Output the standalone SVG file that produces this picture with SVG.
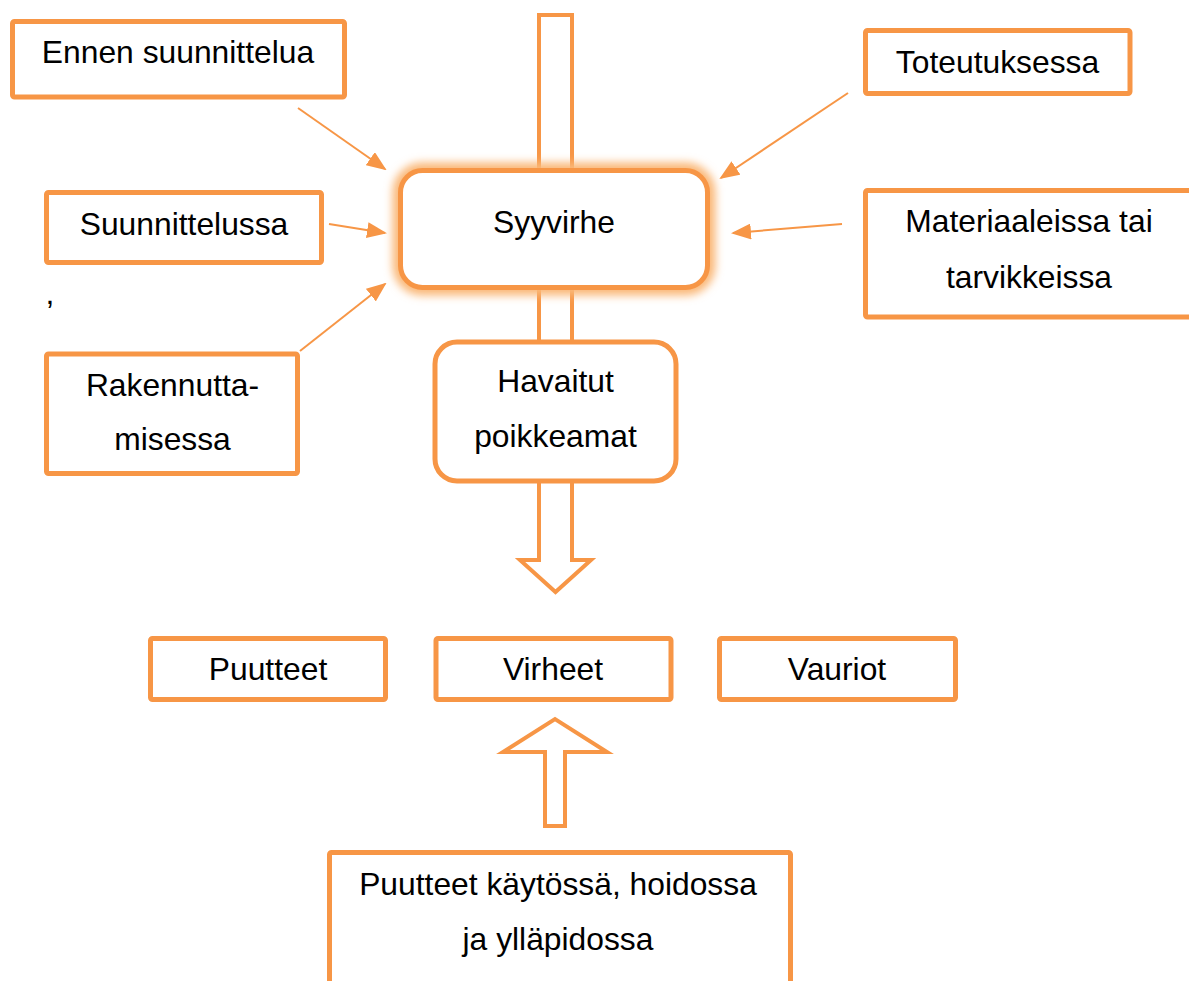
<svg xmlns="http://www.w3.org/2000/svg" width="1189" height="981" viewBox="0 0 1189 981">
<style>
.box{fill:#fff;stroke:#F79646;stroke-width:5}
.rbox{fill:#fff;stroke:#F79646;stroke-width:5}
.bar{fill:#fff;stroke:#F79646;stroke-width:4}
.t{font-family:"Liberation Sans",Arial,sans-serif;font-size:31.8px;fill:#000;text-anchor:middle}
.con{stroke:#F79646;stroke-width:2;fill:none}
</style>
<defs>
<marker id="ah" markerWidth="10" markerHeight="8" refX="9" refY="4" orient="auto" markerUnits="strokeWidth">
<path d="M0,0 L10,4 L0,8 z" fill="#F79646"/>
</marker>
<filter id="glow" x="-20%" y="-30%" width="140%" height="160%">
<feGaussianBlur stdDeviation="4"/>
</filter>
</defs>
<rect width="1189" height="981" fill="#fff"/>
<g id="arrows-block">
<rect class="bar" x="539" y="15" width="33" height="330"/>
<polygon class="bar" points="539,480 539,560 520,560 555.5,592 591,560 572,560 572,480"/>
<polygon class="bar" points="545,826 545,752 503,752 555,719 607,752 565,752 565,826"/>
</g>
<g id="connectors">
<line class="con" x1="298" y1="108" x2="385" y2="169" marker-end="url(#ah)"/>
<line class="con" x1="329" y1="224" x2="385" y2="233" marker-end="url(#ah)"/>
<line class="con" x1="300" y1="351" x2="385" y2="284" marker-end="url(#ah)"/>
<line class="con" x1="848" y1="93" x2="721" y2="178" marker-end="url(#ah)"/>
<line class="con" x1="842" y1="224" x2="733" y2="233" marker-end="url(#ah)"/>
</g>
<g id="n-ennen">
<rect class="box" x="12.5" y="21.5" width="332" height="75.5" rx="2"/>
<text class="t" x="178" y="63">Ennen suunnittelua</text>
</g>
<g id="n-suunnittelussa">
<rect class="box" x="46.5" y="192.5" width="275" height="70" rx="2"/>
<text class="t" x="184" y="235">Suunnittelussa</text>
</g>
<text class="t" x="50" y="304">,</text>
<g id="n-rakennuttamisessa">
<rect class="box" x="46.5" y="354" width="251" height="119.5" rx="2"/>
<text class="t" x="172.5" y="396">Rakennutta-</text>
<text class="t" x="172.5" y="450">misessa</text>
</g>
<g id="n-toteutuksessa">
<rect class="box" x="865.5" y="30.5" width="264.5" height="63" rx="2"/>
<text class="t" x="997.5" y="73">Toteutuksessa</text>
</g>
<g id="n-materiaaleissa">
<rect class="box" x="865.5" y="190.5" width="340" height="126.5" rx="2"/>
<text class="t" x="1029" y="232">Materiaaleissa tai</text>
<text class="t" x="1029" y="288">tarvikkeissa</text>
</g>
<g id="n-syyvirhe">
<rect x="400.5" y="170.5" width="307" height="117" rx="22" fill="none" stroke="#FAB878" stroke-width="16" filter="url(#glow)"/>
<rect class="rbox" x="400.5" y="170.5" width="307" height="117" rx="22"/>
<text class="t" x="554" y="233">Syyvirhe</text>
</g>
<g id="n-havaitut">
<rect class="rbox" x="435" y="342" width="241" height="139" rx="22" stroke-width="4.5"/>
<text class="t" x="555.5" y="392">Havaitut</text>
<text class="t" x="555.5" y="447">poikkeamat</text>
</g>
<g id="n-puutteet">
<rect class="box" x="150.5" y="638.5" width="235" height="61" rx="2"/>
<text class="t" x="268" y="680">Puutteet</text>
</g>
<g id="n-virheet">
<rect class="box" x="436" y="638.5" width="235" height="61" rx="2"/>
<text class="t" x="553" y="680">Virheet</text>
</g>
<g id="n-vauriot">
<rect class="box" x="719.5" y="638.5" width="236" height="61" rx="2"/>
<text class="t" x="837" y="680">Vauriot</text>
</g>
<g id="n-kaytto">
<rect class="box" x="329.5" y="852.5" width="461" height="160" rx="2"/>
<text class="t" x="558" y="895">Puutteet käytössä, hoidossa</text>
<text class="t" x="558" y="950">ja ylläpidossa</text>
</g>
</svg>
